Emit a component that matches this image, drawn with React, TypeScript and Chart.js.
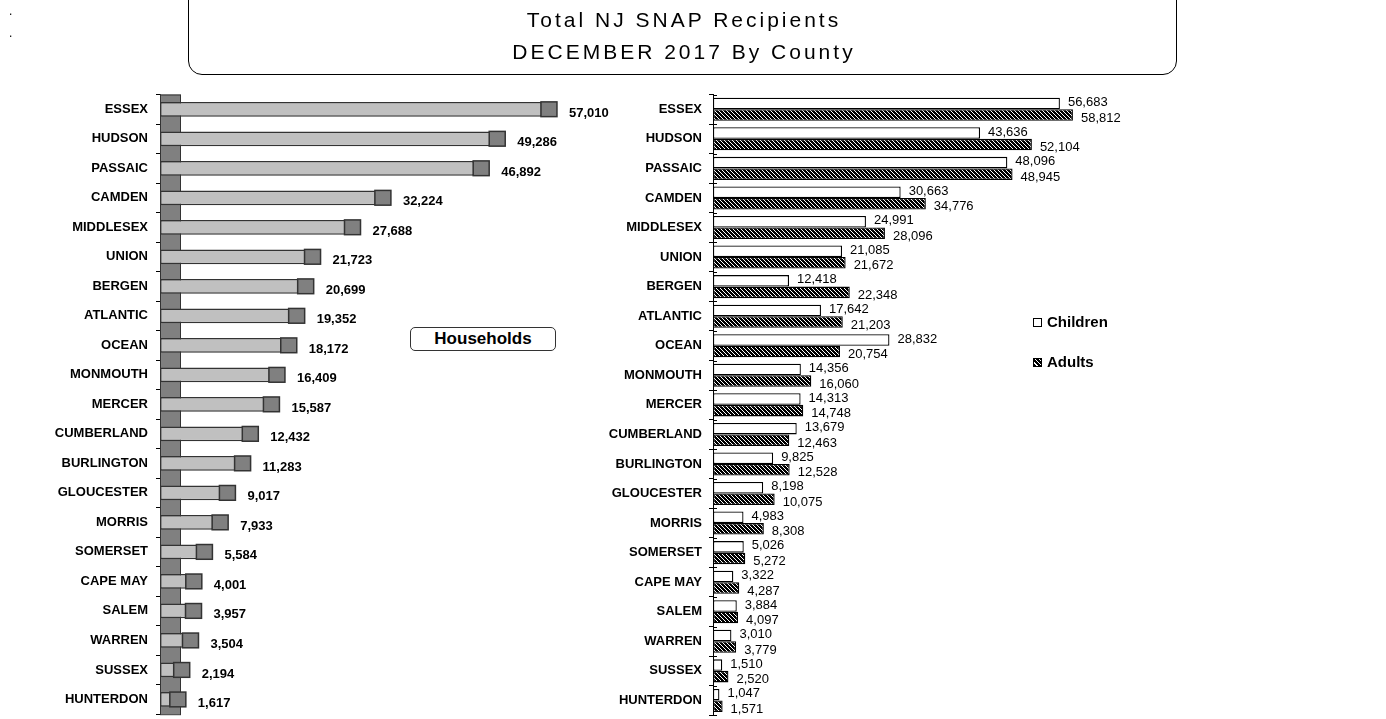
import React, { useEffect, useRef } from "react";
import { Chart, registerables } from "chart.js";

Chart.register(...registerables);

const counties = [
  "ESSEX", "HUDSON", "PASSAIC", "CAMDEN", "MIDDLESEX", "UNION", "BERGEN",
  "ATLANTIC", "OCEAN", "MONMOUTH", "MERCER", "CUMBERLAND", "BURLINGTON",
  "GLOUCESTER", "MORRIS", "SOMERSET", "CAPE MAY", "SALEM", "WARREN",
  "SUSSEX", "HUNTERDON",
];
const households = [
  57010, 49286, 46892, 32224, 27688, 21723, 20699, 19352, 18172, 16409,
  15587, 12432, 11283, 9017, 7933, 5584, 4001, 3957, 3504, 2194, 1617,
];
const children = [
  56683, 43636, 48096, 30663, 24991, 21085, 12418, 17642, 28832, 14356,
  14313, 13679, 9825, 8198, 4983, 5026, 3322, 3884, 3010, 1510, 1047,
];
const adults = [
  58812, 52104, 48945, 34776, 28096, 21672, 22348, 21203, 20754, 16060,
  14748, 12463, 12528, 10075, 8308, 5272, 4287, 4097, 3779, 2520, 1571,
];
const seriesNames = ["Children", "Adults"];
const titleLines = ["Total NJ SNAP Recipients", "DECEMBER 2017 By County"];

const FONT = "'Liberation Sans', Arial, Helvetica, sans-serif";
const fmt = (v: number) => v.toLocaleString("en-US");

function makeHatch(): CanvasPattern | string {
  const c = document.createElement("canvas");
  c.width = 4;
  c.height = 4;
  const ctx = c.getContext("2d");
  if (!ctx) return "#000";
  ctx.fillStyle = "#000";
  ctx.fillRect(0, 0, 4, 4);
  ctx.strokeStyle = "#fff";
  ctx.lineWidth = 1;
  ctx.beginPath();
  ctx.moveTo(-1, -1);
  ctx.lineTo(5, 5);
  ctx.moveTo(-1, 3);
  ctx.lineTo(1, 5);
  ctx.moveTo(3, -1);
  ctx.lineTo(5, 1);
  ctx.stroke();
  return ctx.createPattern(c, "repeat") || "#000";
}

const wall3d = {
  id: "wall3d",
  beforeDatasetsDraw(chart: any) {
    const { ctx, chartArea } = chart;
    const x0 = chart.scales.x.getPixelForValue(0);
    ctx.save();
    ctx.fillStyle = "#808080";
    ctx.fillRect(x0, chartArea.top, 21, chartArea.bottom - chartArea.top);
    ctx.strokeStyle = "#333";
    ctx.lineWidth = 1;
    ctx.strokeRect(x0 + 0.5, chartArea.top + 0.5, 20, chartArea.bottom - chartArea.top);
    ctx.restore();
  },
  afterDatasetsDraw(chart: any) {
    const ctx = chart.ctx;
    const meta = chart.getDatasetMeta(0);
    ctx.save();
    meta.data.forEach((bar: any, i: number) => {
      const { x, y, height } = bar.getProps(["x", "y", "height"], true);
      ctx.fillStyle = "#808080";
      ctx.fillRect(x - 1, y - height / 2, 16, height);
      ctx.strokeStyle = "#333";
      ctx.lineWidth = 1.5;
      ctx.strokeRect(x - 1, y - height / 2, 16, height);
      ctx.fillStyle = "#000";
      ctx.font = `bold 13px ${FONT}`;
      ctx.textBaseline = "middle";
      ctx.textAlign = "left";
      ctx.fillText(fmt(households[i]), x + 27, y + 4);
    });
    ctx.restore();
  },
};

const rightLabels = {
  id: "rightLabels",
  afterDatasetsDraw(chart: any) {
    const ctx = chart.ctx;
    ctx.save();
    // tick marks crossing the axis line
    const yScale = chart.scales.y;
    const ax = chart.chartArea.left;
    ctx.strokeStyle = "#000";
    ctx.lineWidth = 1;
    ctx.beginPath();
    for (let i = 0; i <= counties.length; i++) {
      const py = Math.round(yScale.getPixelForValue(i - 0.5)) + 0.5;
      ctx.moveTo(ax, py);
      ctx.lineTo(ax + 4, py);
    }
    ctx.stroke();

    ctx.fillStyle = "#000";
    ctx.font = `13px ${FONT}`;
    ctx.textBaseline = "middle";
    ctx.textAlign = "left";
    [children, adults].forEach((vals, di) => {
      const meta = chart.getDatasetMeta(di);
      meta.data.forEach((bar: any, i: number) => {
        const { x, y } = bar.getProps(["x", "y"], true);
        ctx.fillText(fmt(vals[i]), x + 8, y + (di === 0 ? -1 : 3));
      });
    });
    ctx.restore();
  },
};

export default function App() {
  const leftRef = useRef<HTMLCanvasElement | null>(null);
  const rightRef = useRef<HTMLCanvasElement | null>(null);

  useEffect(() => {
    if (!leftRef.current || !rightRef.current) return;
    const catFont = { family: FONT, weight: "bold" as const, size: 13 };
    const left = new Chart(leftRef.current, {
      type: "bar",
      data: {
        labels: counties,
        datasets: [
          {
            data: households,
            backgroundColor: "#c0c0c0",
            borderColor: "#333",
            borderWidth: 1.5,
            borderSkipped: false,
            categoryPercentage: 1,
            barPercentage: 0.5,
          },
        ],
      },
      options: {
        indexAxis: "y",
        animation: false,
        responsive: false,
        maintainAspectRatio: false,
        layout: { padding: { top: 94.5, bottom: 9.5, right: 4, left: 0 } },
        plugins: { legend: { display: false }, tooltip: { enabled: false } },
        scales: {
          x: { display: false, min: 0, max: 80000 },
          y: {
            afterFit: (s: any) => {
              s.width = 160;
            },
            grid: { drawOnChartArea: false, tickLength: 4, color: "#000", offset: true },
            border: { color: "#000" },
            ticks: { color: "#000", font: catFont, padding: 8, autoSkip: false },
          },
        },
      },
      plugins: [wall3d],
    });

    const hatch = makeHatch();
    const right = new Chart(rightRef.current, {
      type: "bar",
      data: {
        labels: counties,
        datasets: [
          {
            label: seriesNames[0],
            data: children,
            backgroundColor: "#fff",
            borderColor: "#000",
            borderWidth: 1.3,
            borderSkipped: false,
            categoryPercentage: 0.78,
            barPercentage: 1,
          },
          {
            label: seriesNames[1],
            data: adults,
            backgroundColor: hatch as any,
            borderColor: "#000",
            borderWidth: 1.3,
            borderSkipped: false,
            categoryPercentage: 0.78,
            barPercentage: 1,
          },
        ],
      },
      options: {
        indexAxis: "y",
        animation: false,
        responsive: false,
        maintainAspectRatio: false,
        layout: { padding: { top: 94.5, bottom: 9.5, right: 35, left: 0 } },
        plugins: { legend: { display: false }, tooltip: { enabled: false } },
        scales: {
          x: { display: false, min: 0, max: 100000 },
          y: {
            afterFit: (s: any) => {
              s.width = 153;
            },
            grid: { drawOnChartArea: false, tickLength: 4, color: "#000", offset: true },
            border: { color: "#000" },
            ticks: { color: "#000", font: catFont, padding: 7, autoSkip: false },
          },
        },
      },
      plugins: [rightLabels],
    });

    return () => {
      left.destroy();
      right.destroy();
    };
  }, []);

  return (
    <div
      style={{
        position: "fixed",
        left: 0,
        top: 0,
        width: 1386,
        height: 719,
        overflow: "hidden",
        background: "#fff",
        fontFamily: FONT,
      }}
    >
      <canvas ref={leftRef} width={700} height={730} style={{ position: "absolute", left: 0, top: 0 }} />
      <canvas ref={rightRef} width={800} height={730} style={{ position: "absolute", left: 560, top: 0 }} />
      <div style={{ position: "absolute", left: 9, top: 0, fontSize: 12, lineHeight: "22px", color: "#000" }}>
        .<br />.
      </div>
      <div
        style={{
          position: "absolute",
          left: 188,
          top: -14,
          width: 989,
          height: 89,
          boxSizing: "border-box",
          border: "1.5px solid #000",
          borderRadius: 14,
        }}
      />
      <div
        style={{
          position: "absolute",
          left: 188,
          top: 4,
          width: 989,
          textAlign: "center",
          fontSize: 21,
          lineHeight: "32px",
          letterSpacing: 3,
          paddingLeft: 3,
          boxSizing: "border-box",
          color: "#000",
        }}
      >
        <div>{titleLines[0]}</div>
        <div>{titleLines[1]}</div>
      </div>
      <div
        style={{
          position: "absolute",
          left: 410,
          top: 327,
          width: 146,
          height: 24,
          boxSizing: "border-box",
          border: "1px solid #333",
          borderRadius: 5,
          background: "#fff",
          textAlign: "center",
          fontWeight: "bold",
          fontSize: 17,
          lineHeight: "22px",
        }}
      >
        Households
      </div>
      <div style={{ position: "absolute", left: 1033, top: 312, fontWeight: "bold", fontSize: 15, lineHeight: "20px" }}>
        <div style={{ display: "flex", alignItems: "center", height: 20 }}>
          <span style={{ display: "inline-block", width: 7, height: 7, border: "1px solid #000", background: "#fff", marginRight: 5 }} />
          {seriesNames[0]}
        </div>
        <div style={{ display: "flex", alignItems: "center", height: 20, marginTop: 20 }}>
          <span
            style={{
              display: "inline-block",
              width: 7,
              height: 7,
              border: "1px solid #000",
              background: "repeating-linear-gradient(45deg, #000 0px, #000 2px, #fff 2px, #fff 3px)",
              marginRight: 5,
            }}
          />
          {seriesNames[1]}
        </div>
      </div>
    </div>
  );
}
